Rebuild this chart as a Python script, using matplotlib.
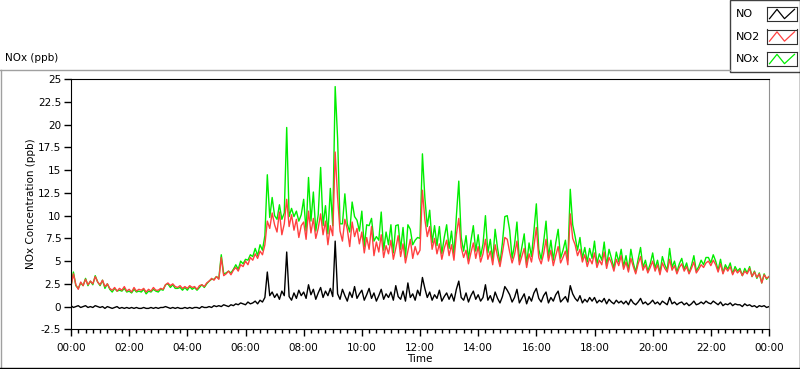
import matplotlib
matplotlib.use('Agg')
import matplotlib.pyplot as plt
from matplotlib.lines import Line2D
from matplotlib.patches import Rectangle
from matplotlib.ticker import FixedLocator, FixedFormatter, MultipleLocator

# 5-minute readings, one row per hour, last value = 24:00
no = [
    0.1, -0.1, 0.0, 0.1, -0.1, 0.0, 0.1, -0.1, 0.0, -0.1, 0.1, 0.0,
    -0.1, 0.0, -0.2, 0.0, -0.1, -0.2, -0.1, 0.0, -0.2, -0.1, -0.2, -0.1,
    -0.2, -0.1, -0.2, -0.1, -0.2, -0.2, -0.1, -0.2, -0.2, -0.1, -0.2, -0.1,
    -0.2, -0.1, -0.1, 0.0, -0.1, -0.2, -0.1, -0.2, -0.1, -0.2, -0.2, -0.1,
    -0.2, -0.1, -0.2, -0.1, -0.1, -0.2, 0.0, -0.1, -0.1, 0.0, -0.1, 0.1,
    0.0, 0.1, 0.0, 0.2, 0.1, 0.0, 0.2, 0.1, 0.3, 0.2, 0.4, 0.3,
    0.2, 0.5, 0.3, 0.4, 0.6, 0.3, 0.7, 0.5, 1.0, 3.8, 1.2, 1.6,
    1.0, 1.4, 0.8, 1.7, 1.2, 6.0, 1.1, 0.7, 1.5, 0.9, 1.8, 1.2,
    1.6, 0.9, 2.4, 1.3, 1.9, 0.8, 1.5, 2.1, 1.0, 1.7, 1.2, 2.0,
    1.1, 7.2, 1.4, 0.8, 1.9, 1.2, 0.6, 1.6, 1.0, 2.2, 0.9, 1.4,
    1.8, 0.7, 1.3, 2.0, 0.9, 1.5, 0.6, 1.2, 1.9, 0.8, 1.4, 1.0,
    1.6, 0.7, 2.3, 1.1, 0.8, 1.7, 0.6, 2.6, 1.0, 1.4, 0.7, 1.8,
    1.2, 3.2, 2.0, 1.0, 1.6, 0.7, 1.3, 0.9, 1.8, 0.6, 1.1, 1.5,
    0.8, 1.4, 0.6, 1.9, 2.8, 1.0, 0.7, 1.5, 0.5, 1.2, 1.7, 0.8,
    1.3, 0.6, 1.0, 2.4, 0.7, 1.2, 0.5, 1.6, 0.9, 0.4, 1.1, 2.2,
    1.8, 1.3, 0.5, 1.0, 1.9, 0.4, 0.9, 1.4, 0.3, 1.1, 0.6, 1.5,
    2.0, 0.9, 0.5, 1.2, 1.6, 0.4, 1.0, 0.6, 1.3, 1.7, 0.5, 0.8,
    1.1, 0.5, 2.3, 1.4, 0.9, 0.6, 1.2, 0.4, 0.8, 0.5, 1.0, 0.6,
    1.0, 0.4, 0.7, 0.5, 0.9, 0.3, 0.8, 0.5, 0.3, 0.7, 0.4, 0.6,
    0.3, 0.6, 0.2, 0.8, 0.4, 0.2, 0.5, 0.9, 0.3, 0.5, 0.2, 0.4,
    0.7, 0.3, 0.5, 0.2, 0.6, 0.4, 0.2, 1.0, 0.3, 0.5, 0.2, 0.4,
    0.5, 0.2, 0.4, 0.1, 0.3, 0.6, 0.2, 0.3, 0.5, 0.3, 0.6, 0.4,
    0.3, 0.6, 0.4, 0.2, 0.5, 0.1, 0.3, 0.2, 0.4, 0.1, 0.3, 0.2,
    0.2, 0.0, 0.3, 0.1, 0.2, 0.0, 0.1, -0.1, 0.1, 0.0, 0.1, -0.1,
    0.0,
]

no2 = [
    2.2, 3.6, 2.4, 1.9, 2.7, 2.3, 3.0, 2.4, 2.8, 2.5, 3.3, 2.7,
    2.4, 2.9, 2.2, 2.5, 2.0, 1.8, 2.1, 1.7, 2.0, 1.8, 2.2, 1.7,
    1.9, 1.6, 2.1, 1.7, 1.9, 1.8, 2.0, 1.6, 1.9, 1.7, 2.1, 1.8,
    1.8, 2.0, 1.9, 2.4, 2.6, 2.3, 2.5, 2.2, 2.1, 2.3, 2.0, 2.2,
    2.0, 2.3, 2.1, 2.2, 1.9, 2.3, 2.4, 2.2, 2.6, 2.8, 3.1, 2.9,
    3.3, 3.0, 5.4, 3.4, 3.6, 3.9, 3.5, 4.0, 4.3, 3.9, 4.6, 4.4,
    5.0, 4.6, 5.4, 5.1, 5.8, 5.3, 6.1, 5.7, 6.8, 9.4, 8.6, 10.3,
    9.0, 8.2, 10.4, 7.9, 9.1, 11.8, 8.8, 10.1, 8.4, 9.6, 7.6, 8.9,
    9.3, 7.4, 10.5, 8.1, 9.7, 7.5, 8.6, 10.2, 7.9, 9.4, 6.8, 8.9,
    7.8, 17.0, 12.0, 8.3, 7.2, 9.6, 8.5, 6.6, 9.3, 7.7, 8.6, 6.9,
    8.2, 5.9, 7.6, 6.3, 8.8, 5.6, 7.1, 6.0, 7.9, 5.4, 6.7, 5.8,
    7.3, 5.2, 6.4, 7.8, 5.5, 6.9, 4.8, 6.1, 7.4, 5.3, 6.6, 5.7,
    6.2, 12.8, 9.6, 7.7, 8.8, 6.3, 7.5, 5.8, 6.9, 5.2, 6.4, 7.3,
    5.6, 6.8, 5.1, 7.9, 9.7, 6.5, 5.4, 6.2, 4.7, 5.9, 7.0, 5.3,
    6.6, 4.9, 5.8, 7.4, 5.2, 6.1, 4.6, 6.8, 5.5, 4.4, 5.9, 7.6,
    7.4, 6.0, 4.8, 5.7, 7.2, 4.6, 5.5, 6.4, 4.3, 5.8, 4.9, 6.6,
    8.7, 5.4, 4.7, 5.8, 7.4, 5.0, 6.2, 4.5, 5.6, 6.6, 4.8, 5.4,
    6.1, 4.6, 10.2, 7.5, 6.8, 5.6, 6.3, 4.9, 5.7, 4.4, 5.3, 4.7,
    5.9, 4.3, 5.1, 4.6, 6.0, 4.2, 5.4, 4.8, 3.9, 5.2, 4.5, 5.6,
    4.1, 4.9, 3.8, 5.3, 4.4, 3.6, 4.7, 5.5, 4.0, 4.6, 3.7, 4.3,
    5.0, 3.9, 4.6, 3.5, 4.8, 4.2, 3.8, 5.2, 4.0, 4.5, 3.6, 4.3,
    4.7, 3.9, 4.4, 3.6, 4.2, 4.9, 3.7, 4.1, 4.6, 4.3, 4.8, 5.0,
    4.5, 5.1, 4.6, 3.8, 4.7, 3.6, 4.3, 3.9, 4.4, 3.5, 4.1, 3.7,
    4.0, 3.4, 3.9, 3.6, 4.2, 3.3, 3.8, 3.2, 3.6, 2.6, 3.5, 3.1,
    3.3,
]

nox = [
    2.3, 3.8, 2.3, 2.0, 2.6, 2.3, 3.1, 2.3, 2.8, 2.4, 3.4, 2.7,
    2.3, 2.9, 2.0, 2.5, 1.9, 1.6, 2.0, 1.7, 1.8, 1.7, 2.0, 1.6,
    1.7, 1.5, 1.9, 1.6, 1.7, 1.6, 1.9, 1.4, 1.7, 1.6, 1.9, 1.7,
    1.6, 1.9, 1.8, 2.4, 2.5, 2.1, 2.4, 2.0, 2.0, 2.1, 1.8, 2.1,
    1.8, 2.2, 1.9, 2.1, 1.8, 2.1, 2.4, 2.1, 2.5, 2.8, 3.0, 3.0,
    3.3, 3.1, 5.7, 3.6, 3.7, 3.9, 3.7, 4.1, 4.6, 4.1, 5.0, 4.7,
    5.2, 5.1, 5.7, 5.5, 6.4, 5.6, 6.8, 6.2, 7.8, 14.5, 9.8, 12.0,
    10.0, 9.6, 11.2, 9.6, 10.3, 19.7, 9.9, 10.8, 9.9, 10.5, 9.4, 10.1,
    11.8, 8.3, 14.2, 9.4, 12.6, 8.3, 10.1, 15.3, 8.9, 11.1, 8.0, 13.0,
    8.9, 24.2, 18.5, 9.1, 9.1, 12.4, 9.1, 8.2, 11.5, 9.9, 9.5, 8.3,
    10.5, 6.6, 9.0, 8.9, 9.7, 7.2, 7.7, 7.3, 10.4, 6.2, 8.2, 6.8,
    9.0, 5.9, 8.9, 9.0, 6.3, 8.7, 5.4, 9.0, 8.5, 6.8, 7.3, 7.6,
    7.5, 16.8, 12.0, 8.8, 10.6, 7.0, 8.9, 6.7, 8.8, 5.8, 7.6, 9.0,
    6.4, 8.3, 5.7, 9.9, 13.8, 7.6, 6.1, 7.8, 5.2, 7.2, 8.9, 6.1,
    7.9, 5.5, 6.9, 10.0, 5.9, 7.4, 5.1, 8.5, 6.4, 4.8, 7.0, 9.9,
    10.0, 8.4, 5.3, 6.8, 9.3, 5.0, 6.5, 8.0, 4.6, 7.0, 5.5, 8.3,
    11.3, 6.3, 5.2, 7.1, 9.4, 5.4, 7.3, 5.1, 7.0, 8.5, 5.3, 6.2,
    7.3, 5.1, 12.9, 9.0, 7.7, 6.2, 7.6, 5.3, 6.5, 4.9, 6.4, 5.3,
    7.2, 4.7, 5.8, 5.1, 7.1, 4.5, 6.3, 5.3, 4.2, 6.0, 4.9, 6.3,
    4.4, 5.6, 4.0, 6.3, 4.8, 3.8, 5.2, 6.5, 4.3, 5.1, 3.9, 4.7,
    5.9, 4.2, 5.1, 3.7, 5.5, 4.6, 4.0, 6.4, 4.3, 5.0, 3.8, 4.7,
    5.3, 4.1, 4.8, 3.7, 4.5, 5.6, 3.9, 4.4, 5.1, 4.6, 5.4, 5.4,
    4.8, 5.7, 5.0, 4.0, 5.2, 3.7, 4.6, 4.1, 4.8, 3.6, 4.4, 3.9,
    4.2, 3.4, 4.2, 3.7, 4.4, 3.3, 3.9, 3.1, 3.7, 2.6, 3.6, 3.0,
    3.3,
]

hours = [i / 12 for i in range(len(no2))]

ytick_vals = [-2.5, 0, 2.5, 5, 7.5, 10, 12.5, 15, 17.5, 20, 22.5, 25]
ytick_labels = ['-2.5', '0', '2.5', '5', '7.5', '10', '12.5', '15', '17.5', '20', '22.5', '25']
xtick_vals = [0, 2, 4, 6, 8, 10, 12, 14, 16, 18, 20, 22, 24]
xtick_labels = ['00:00', '02:00', '04:00', '06:00', '08:00', '10:00', '12:00',
                '14:00', '16:00', '18:00', '20:00', '22:00', '00:00']

series_names = ['NO', 'NO2', 'NOx']
series_colors = ['black', '#ff4040', '#00ee00']

W, H = 800, 369
fig = plt.figure(figsize=(W / 100, H / 100), dpi=100)
fs = 7.5

def fx(px):
    return px / W

def fy(py):
    return 1 - py / H

# panel frame (LabVIEW style)
fig.add_artist(Line2D([0, fx(730)], [fy(69.5), fy(69.5)], color='#a0a0a0', lw=1))
fig.add_artist(Line2D([fx(0.5), fx(0.5)], [fy(69.5), fy(368.5)], color='#a0a0a0', lw=1))
fig.add_artist(Line2D([0, 1], [fy(368), fy(368)], color='black', lw=1))
fig.add_artist(Line2D([fx(799.5), fx(799.5)], [fy(72), fy(368.5)], color='black', lw=1))

ax = fig.add_axes([fx(71), fy(329.3), fx(769) - fx(71), fy(79.3) - fy(329.3)])
ax.plot(hours, nox, color=series_colors[2], lw=1.0, zorder=1)
ax.plot(hours, no2, color=series_colors[1], lw=1.0, zorder=2)
ax.plot(hours, no, color=series_colors[0], lw=1.0, zorder=3)

ax.set_xlim(0, 24)
ax.set_ylim(-2.5, 25)
ax.yaxis.set_major_locator(FixedLocator(ytick_vals))
ax.yaxis.set_major_formatter(FixedFormatter(ytick_labels))
ax.xaxis.set_major_locator(FixedLocator(xtick_vals))
ax.xaxis.set_major_formatter(FixedFormatter(xtick_labels))
ax.xaxis.set_minor_locator(MultipleLocator(0.25))
ax.tick_params(axis='both', which='major', direction='out', length=5, width=1,
               labelsize=fs, pad=2)
ax.tick_params(axis='x', which='minor', direction='out', length=3, width=1)
ax.tick_params(axis='x', which='major', pad=5)
for side in ['left', 'top', 'bottom']:
    ax.spines[side].set_color('black')
ax.spines['right'].set_color('#909090')

fig.text(fx(5), fy(58), 'NOx (ppb)', fontsize=fs, va='center', ha='left')
fig.text(fx(31), fy(204), 'NOx Concentration (ppb)', fontsize=fs, rotation=90,
         va='center', ha='center')
fig.text(fx(420), fy(359), 'Time', fontsize=fs, va='center', ha='center')

# legend panel
fig.add_artist(Rectangle((fx(730), fy(72)), fx(800) - fx(730), fy(0) - fy(72),
                         facecolor='white', edgecolor='#404040', lw=1, zorder=-1))
zig_x = [0, 0.3, 0.6, 1.0]
zig_y = [0.1, 0.9, 0.1, 0.9]
for i, (name, col) in enumerate(zip(series_names, series_colors)):
    cy = 14 + i * 22.5
    fig.text(fx(736), fy(cy), name, fontsize=fs + 0.5, va='center', ha='left')
    sw = fig.add_axes([fx(767), fy(cy + 7), fx(30), fy(0) - fy(14)])
    sw.set_zorder(5)
    sw.plot(zig_x, zig_y, color=col, lw=0.9)
    sw.set_xlim(-0.1, 1.1)
    sw.set_ylim(-0.1, 1.1)
    sw.set_xticks([])
    sw.set_yticks([])
    for s in sw.spines.values():
        s.set_color('#303030')

fig.savefig('out.png', dpi=100)
